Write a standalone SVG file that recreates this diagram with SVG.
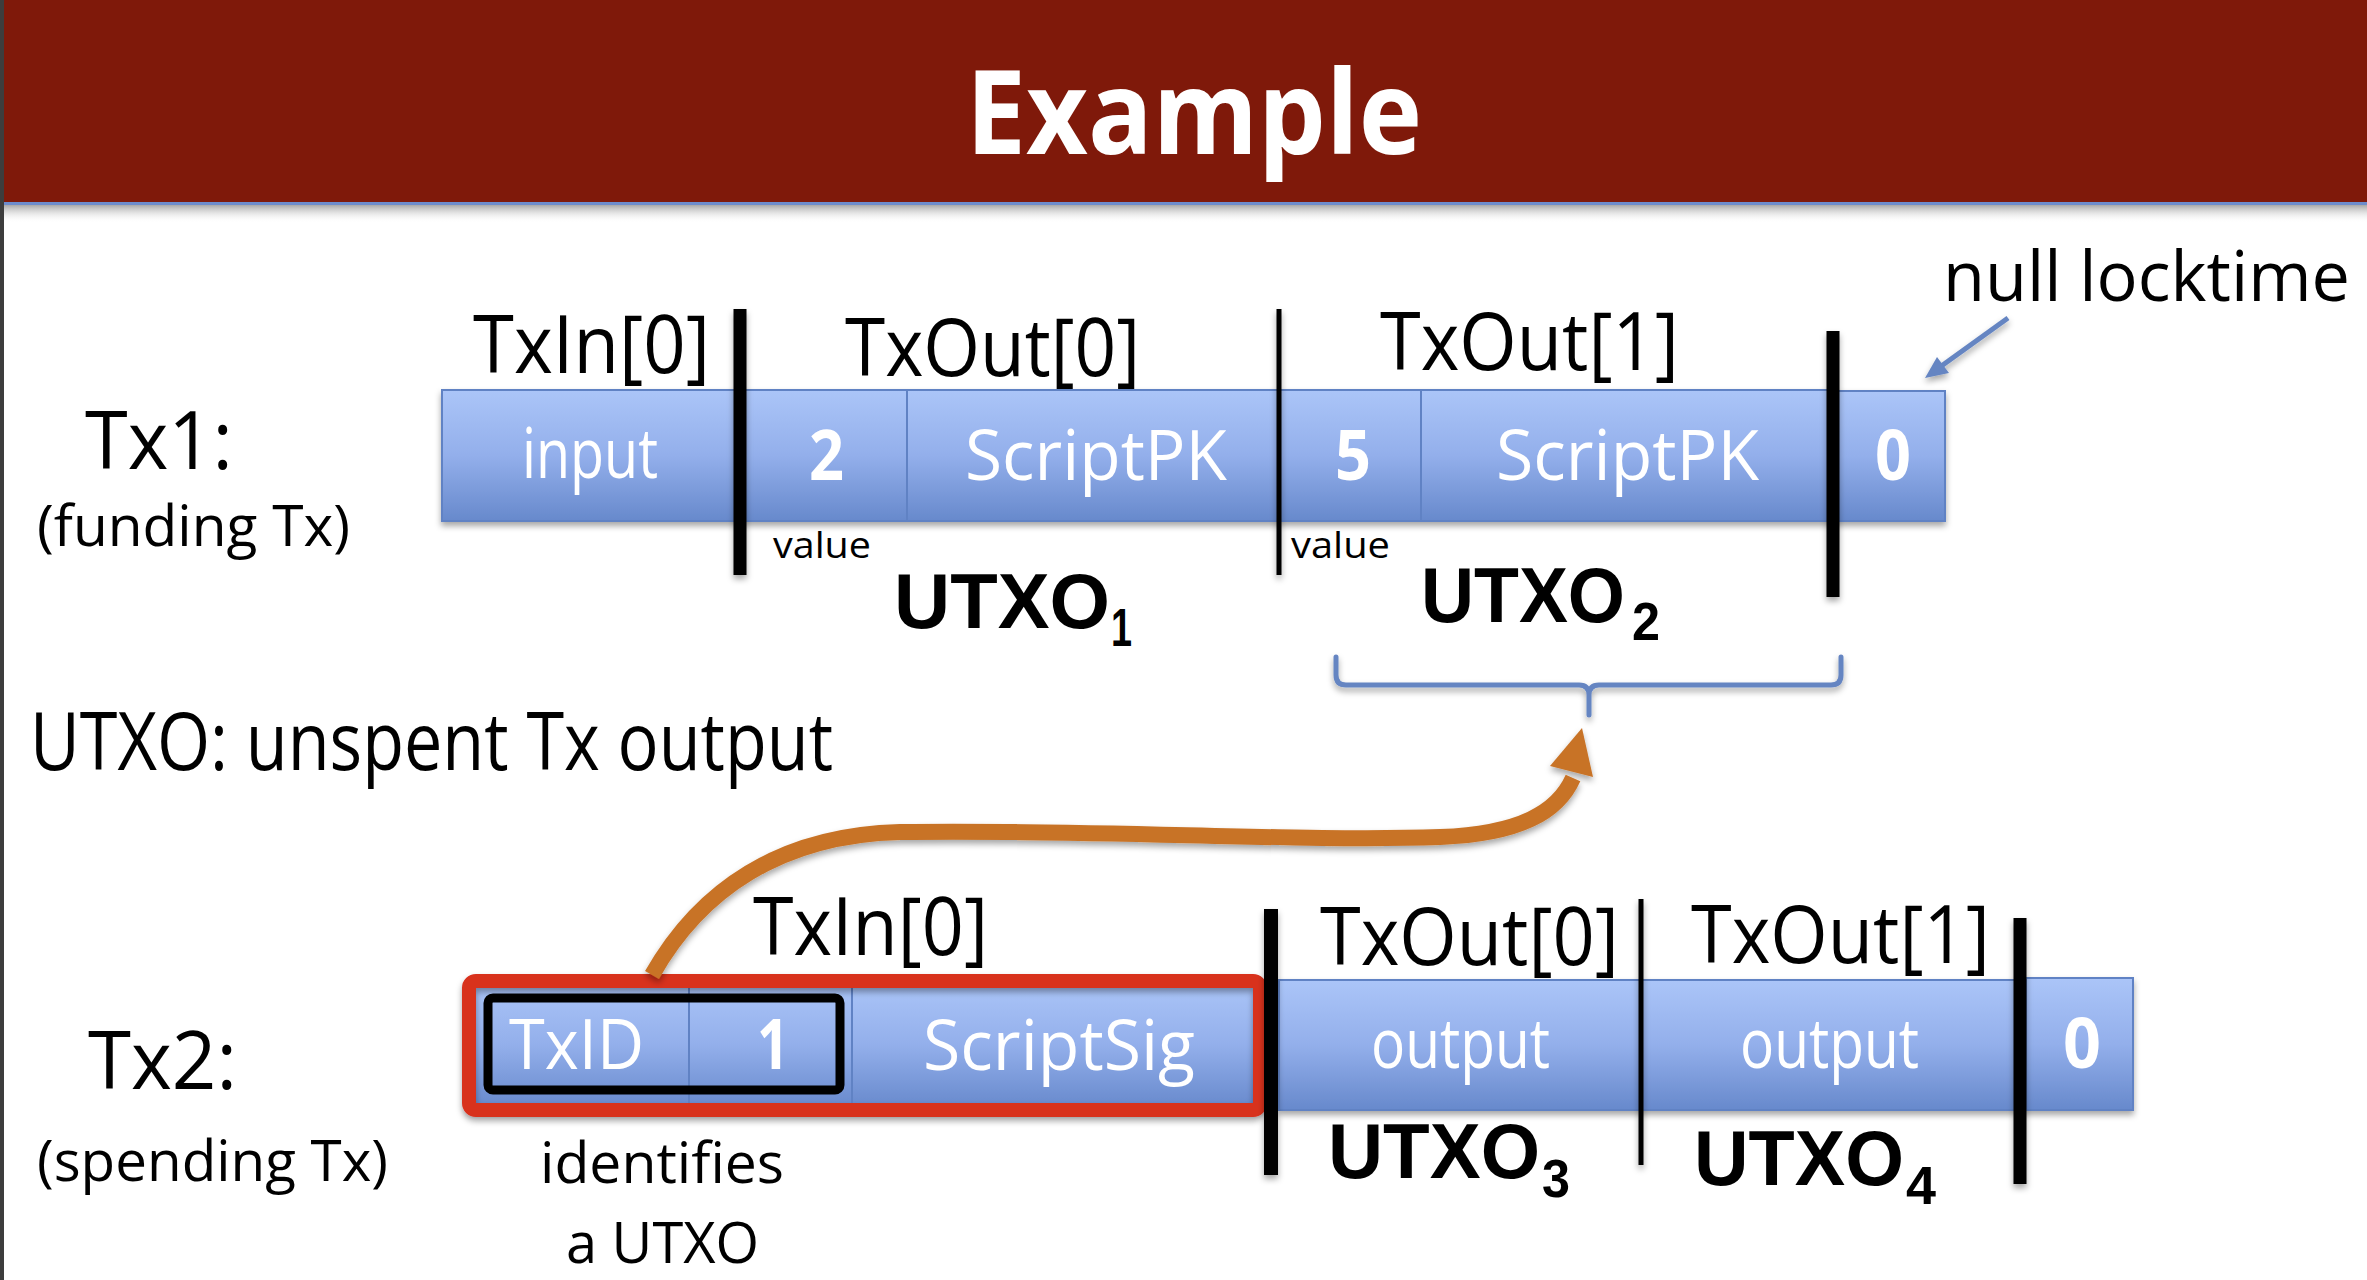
<svg xmlns="http://www.w3.org/2000/svg" width="2367" height="1280" viewBox="0 0 2367 1280">
  <defs>
    <linearGradient id="cellFill" x1="0" y1="0" x2="0" y2="1">
      <stop offset="0" stop-color="#abc5f8"/>
      <stop offset="0.5" stop-color="#93afeb"/>
      <stop offset="1" stop-color="#6789cc"/>
    </linearGradient>
    <linearGradient id="headShade" x1="0" y1="0" x2="0" y2="1">
      <stop offset="0" stop-color="#8a8a8a" stop-opacity="0.75"/>
      <stop offset="1" stop-color="#ffffff" stop-opacity="0"/>
    </linearGradient>
    <filter id="soft" x="-10%" y="-10%" width="120%" height="140%">
      <feDropShadow dx="0" dy="4" stdDeviation="3" flood-color="#000" flood-opacity="0.35"/>
    </filter>
    <style>
      .txt { font-family: "Open Sans", "Liberation Sans", sans-serif; fill: #000; }
      .in { font-family: "Open Sans", "Liberation Sans", sans-serif; fill: #fff; font-size: 70px; }
      .num { font-weight: 700; }
      .hdr { font-size: 80px; }
      .utxo { font-family: "Liberation Sans", Arial, sans-serif; font-weight: 700; fill: #000; }
      .sub { font-size: 54px; }
      .cell { fill: url(#cellFill); stroke: #6182c4; stroke-width: 2; }
      .bar { stroke: #000; }
    </style>
  </defs>

  <!-- page background and title band -->
  <rect x="0" y="0" width="2367" height="1280" fill="#ffffff"/>
  <rect x="0" y="0" width="2367" height="203" fill="#7f190a"/>
  <rect x="0" y="202" width="2367" height="3" fill="#6d8ccc"/>
  <rect x="0" y="205" width="2367" height="18" fill="url(#headShade)"/>
  <rect x="0" y="0" width="4" height="1280" fill="#3d3d3d"/>
  <text id="title" x="966" y="154" font-family="Open Sans, Liberation Sans, sans-serif" font-weight="700" font-size="116" fill="#ffffff" textLength="456" lengthAdjust="spacingAndGlyphs">Example</text>

  <!-- side captions -->
  <g id="tx1-caption">
    <text class="txt" x="85" y="469" font-size="80" textLength="148" lengthAdjust="spacingAndGlyphs">Tx1:</text>
    <text class="txt" x="37" y="546" font-size="56" textLength="313" lengthAdjust="spacingAndGlyphs">(funding Tx)</text>
  </g>
  <g id="utxo-legend">
    <text class="txt" x="30" y="770" font-size="81" textLength="803" lengthAdjust="spacingAndGlyphs">UTXO: unspent Tx output</text>
  </g>
  <g id="tx2-caption">
    <text class="txt" x="88" y="1089" font-size="80" textLength="149" lengthAdjust="spacingAndGlyphs">Tx2:</text>
    <text class="txt" x="37" y="1181" font-size="56" textLength="351" lengthAdjust="spacingAndGlyphs">(spending Tx)</text>
  </g>

  <!-- funding transaction -->
  <g id="tx1">
    <g filter="url(#soft)">
      <rect class="cell" x="442" y="390" width="298" height="131"/>
      <rect class="cell" x="740" y="390" width="167" height="131"/>
      <rect class="cell" x="907" y="390" width="372" height="131"/>
      <rect class="cell" x="1279" y="390" width="142" height="131"/>
      <rect class="cell" x="1421" y="390" width="417" height="131"/>
      <rect class="cell" x="1838" y="391" width="107" height="130"/>
    </g>
    <text class="in" x="522" y="478" textLength="136" lengthAdjust="spacingAndGlyphs">input</text>
    <text class="in num" x="809" y="480" textLength="35" lengthAdjust="spacingAndGlyphs">2</text>
    <text class="in" x="965" y="480" textLength="262" lengthAdjust="spacingAndGlyphs">ScriptPK</text>
    <text class="in num" x="1335" y="480" textLength="36" lengthAdjust="spacingAndGlyphs">5</text>
    <text class="in" x="1496" y="480" textLength="263" lengthAdjust="spacingAndGlyphs">ScriptPK</text>
    <text class="in num" x="1875" y="480" textLength="36" lengthAdjust="spacingAndGlyphs">0</text>

    <text class="txt hdr" x="473" y="373" textLength="237" lengthAdjust="spacingAndGlyphs">TxIn[0]</text>
    <text class="txt hdr" x="845" y="376" textLength="295" lengthAdjust="spacingAndGlyphs">TxOut[0]</text>
    <text class="txt hdr" x="1380" y="370" textLength="299" lengthAdjust="spacingAndGlyphs">TxOut[1]</text>

    <text class="txt" x="773" y="558" font-size="36" textLength="98" lengthAdjust="spacingAndGlyphs">value</text>
    <text class="txt" x="1291" y="558" font-size="36" textLength="99" lengthAdjust="spacingAndGlyphs">value</text>

    <g filter="url(#soft)">
      <line class="bar" x1="740" y1="309" x2="740" y2="575" stroke-width="13"/>
      <line class="bar" x1="1279" y1="309" x2="1279" y2="575" stroke-width="5"/>
      <line class="bar" x1="1833" y1="331" x2="1833" y2="597" stroke-width="13"/>
    </g>

    <text class="utxo" x="894" y="628" font-size="77" textLength="216" lengthAdjust="spacingAndGlyphs">UTXO</text>
    <text class="utxo sub" x="1111" y="646" textLength="21" lengthAdjust="spacingAndGlyphs">1</text>
    <text class="utxo" x="1421" y="622" font-size="77" textLength="204" lengthAdjust="spacingAndGlyphs">UTXO</text>
    <text class="utxo sub" x="1632" y="640" textLength="28" lengthAdjust="spacingAndGlyphs">2</text>
  </g>

  <g id="locktime-note">
    <text class="txt" x="1943" y="301" font-size="70" textLength="407" lengthAdjust="spacingAndGlyphs">null locktime</text>
  </g>

  <!-- spending transaction -->
  <g id="tx2">
    <g filter="url(#soft)">
      <rect class="cell" x="469" y="982" width="220" height="126"/>
      <rect class="cell" x="689" y="982" width="163" height="126"/>
      <rect class="cell" x="852" y="982" width="410" height="126"/>
      <rect class="cell" x="1279" y="980" width="362" height="130"/>
      <rect class="cell" x="1641" y="980" width="385" height="130"/>
      <rect class="cell" x="2026" y="978" width="107" height="132"/>
    </g>

    <text class="in" x="509" y="1069" textLength="135" lengthAdjust="spacingAndGlyphs">TxID</text>
    <text class="in num" x="757" y="1069" textLength="32" lengthAdjust="spacingAndGlyphs">1</text>
    <text class="in" x="923" y="1070" textLength="272" lengthAdjust="spacingAndGlyphs">ScriptSig</text>
    <text class="in" x="1371" y="1068" textLength="179" lengthAdjust="spacingAndGlyphs">output</text>
    <text class="in" x="1740" y="1068" textLength="179" lengthAdjust="spacingAndGlyphs">output</text>
    <text class="in num" x="2063" y="1068" textLength="38" lengthAdjust="spacingAndGlyphs">0</text>

    <!-- input outline and outpoint reference box -->
    <rect x="469" y="981" width="791" height="129" rx="7" fill="none" stroke="#d8301c" stroke-width="14" filter="url(#soft)"/>
    <rect x="488" y="998" width="352" height="92" rx="5" fill="none" stroke="#000" stroke-width="9"/>

    <text class="txt hdr" x="753" y="955" textLength="235" lengthAdjust="spacingAndGlyphs">TxIn[0]</text>
    <text class="txt hdr" x="1320" y="965" textLength="299" lengthAdjust="spacingAndGlyphs">TxOut[0]</text>
    <text class="txt hdr" x="1691" y="963" textLength="299" lengthAdjust="spacingAndGlyphs">TxOut[1]</text>

    <g filter="url(#soft)">
      <line class="bar" x1="1271" y1="909" x2="1271" y2="1175" stroke-width="14"/>
      <line class="bar" x1="1641" y1="899" x2="1641" y2="1165" stroke-width="5"/>
      <line class="bar" x1="2020" y1="918" x2="2020" y2="1184" stroke-width="13"/>
    </g>

    <text class="txt" x="540" y="1183" font-size="56" textLength="244" lengthAdjust="spacingAndGlyphs">identifies</text>
    <text class="txt" x="566" y="1263" font-size="56" textLength="193" lengthAdjust="spacingAndGlyphs">a UTXO</text>

    <text class="utxo" x="1328" y="1178" font-size="77" textLength="212" lengthAdjust="spacingAndGlyphs">UTXO</text>
    <text class="utxo sub" x="1542" y="1197" textLength="28" lengthAdjust="spacingAndGlyphs">3</text>
    <text class="utxo" x="1694" y="1185" font-size="77" textLength="210" lengthAdjust="spacingAndGlyphs">UTXO</text>
    <text class="utxo sub" x="1906" y="1204" textLength="30" lengthAdjust="spacingAndGlyphs">4</text>
  </g>

  <!-- connectors -->
  <g id="connectors">
    <!-- brace grouping the second output -->
    <path d="M1336 657 L1336 675 Q1336 685 1346 685 L1579 685 Q1589 685 1589 695 L1589 715 M1589 695 Q1589 685 1599 685 L1831 685 Q1841 685 1841 675 L1841 657" fill="none" stroke="#6585c2" stroke-width="5" stroke-linecap="round" stroke-linejoin="round" filter="url(#soft)"/>

    <!-- pointer to the locktime field -->
    <g filter="url(#soft)">
      <line x1="2008" y1="318" x2="1940" y2="367" stroke="#6585c2" stroke-width="5"/>
      <polygon points="1925,378 1937,357 1949,373" fill="#6585c2"/>
    </g>

    <!-- outpoint reference back to the funding output -->
    <g filter="url(#soft)">
      <path d="M652 975 C700 890 780 835 900 832 C1100 829 1300 842 1440 837 C1520 834 1558 812 1573 778" fill="none" stroke="#c87327" stroke-width="16"/>
      <polygon points="1582,728 1550,766 1593,777" fill="#c87327"/>
    </g>
  </g>
</svg>
